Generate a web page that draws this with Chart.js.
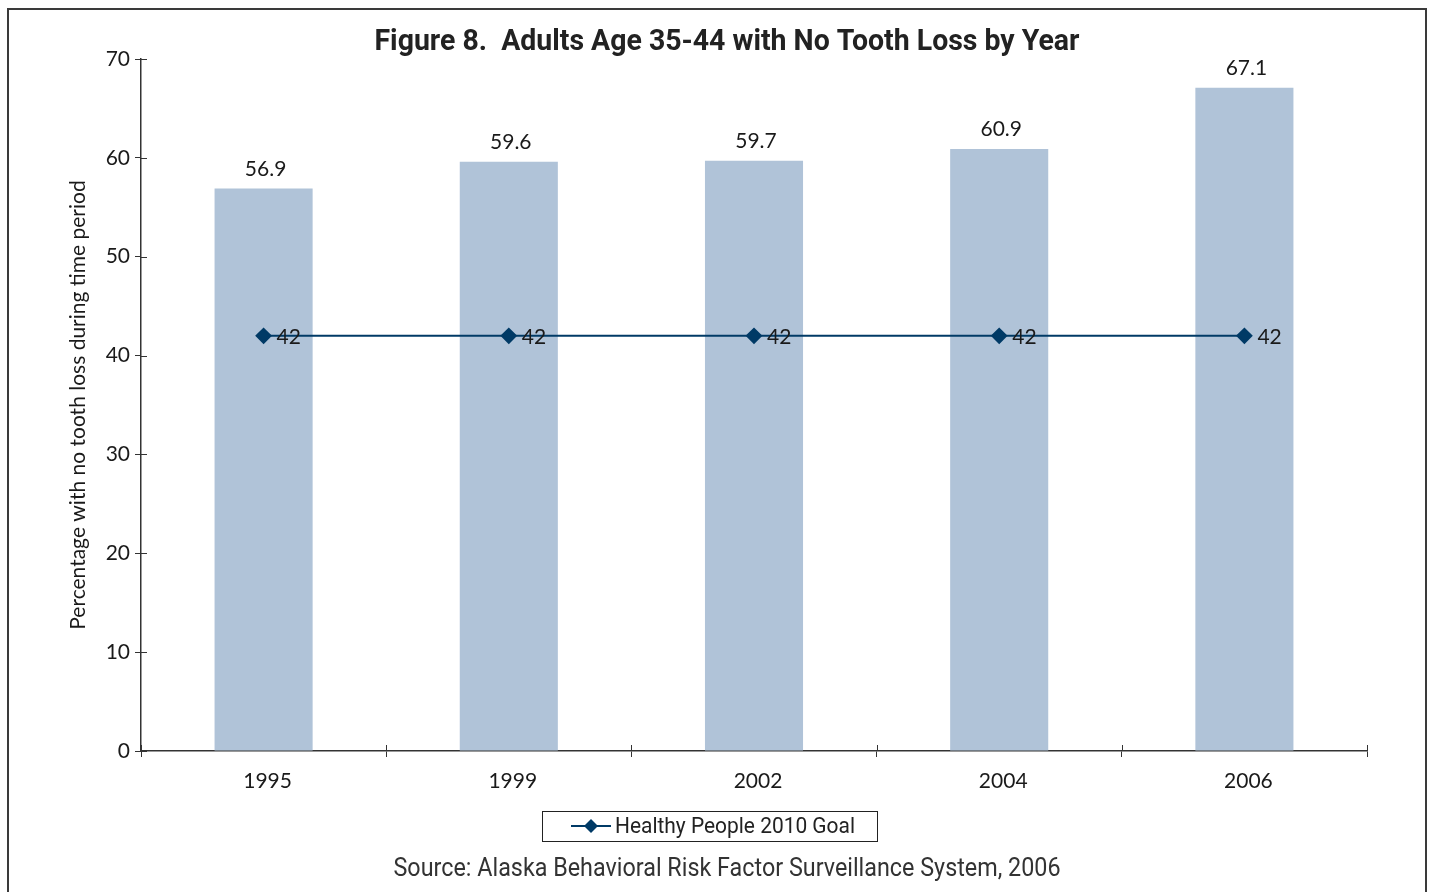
<!DOCTYPE html>
<html>
<head>
<meta charset="utf-8">
<title>Adults Age 35-44 with No Tooth Loss by Year</title>
<script src="https://cdn.jsdelivr.net/npm/chart.js@4.4.1/dist/chart.umd.min.js"></script>
<style>
    html, body { margin: 0; padding: 0; background: #fff; overflow: hidden; }
    #wrap { position: relative; width: 1432px; height: 892px; }
    #frame {
        position: absolute; left: 7px; top: 8px; width: 1420px; height: 900px;
        border: 2px solid #3a3a3a; box-sizing: border-box; pointer-events: none;
    }
    canvas { position: absolute; left: 0; top: 0; }
</style>
</head>
<body>
<div id="wrap">
    <canvas id="chartGigi" width="1432" height="892"></canvas>
    <div id="frame"></div>
</div>
<script>
// Data
const years = ['1995', '1999', '2002', '2004', '2006'];
const noLossPct = [56.9, 59.6, 59.7, 60.9, 67.1];
const goalPct = [42, 42, 42, 42, 42];
const yTicks = [0, 10, 20, 30, 40, 50, 60, 70];

const chartTitle = 'Figure 8.  Adults Age 35-44 with No Tooth Loss by Year';
const goalLabel = 'Healthy People 2010 Goal';
const sourceText = 'Source: Alaska Behavioral Risk Factor Surveillance System, 2006';
const yTitle = 'Percentage with no tooth loss during time period';

const BAR_COLOR = '#b0c3d8';
const LINE_COLOR = '#003a66';
const AXIS_COLOR = '#333';
const TEXT_COLOR = '#1a1a1a';

// Tick marks that cross the axis line (Chart.js only draws the outer half)
const innerTicks = {
    id: 'innerTicks',
    afterDraw(chart) {
        const { ctx, chartArea, scales } = chart;
        ctx.save();
        ctx.strokeStyle = AXIS_COLOR;
        ctx.lineWidth = 1;
        ctx.beginPath();
        yTicks.forEach(v => {
            const y = Math.round(scales.y.getPixelForValue(v)) + 0.5;
            ctx.moveTo(chartArea.left, y);
            ctx.lineTo(chartArea.left + 6, y);
        });
        for (let i = 0; i <= years.length; i++) {
            const x = Math.round(scales.x.getPixelForValue(i - 0.5)) + 0.5;
            ctx.moveTo(x, chartArea.bottom);
            ctx.lineTo(x, chartArea.bottom - 6);
        }
        ctx.stroke();
        ctx.restore();
    }
};

// Value labels above bars and beside the goal points
const valueLabels = {
    id: 'valueLabels',
    afterDatasetsDraw(chart) {
        const { ctx } = chart;
        ctx.save();
        ctx.font = '21px Lato';
        ctx.fillStyle = TEXT_COLOR;

        ctx.textAlign = 'center';
        ctx.textBaseline = 'bottom';
        chart.getDatasetMeta(0).data.forEach((bar, i) => {
            ctx.fillText(noLossPct[i].toFixed(1), bar.x + 2, bar.y - 9);
        });

        ctx.textAlign = 'left';
        ctx.textBaseline = 'middle';
        chart.getDatasetMeta(1).data.forEach((pt, i) => {
            ctx.fillText(String(goalPct[i]), pt.x + 13, pt.y + 1);
        });
        ctx.restore();
    }
};

// Title, boxed legend and source line (narrow face squeezed with maxWidth)
const pageText = {
    id: 'pageText',
    afterDraw(chart) {
        const { ctx } = chart;
        ctx.save();
        ctx.fillStyle = '#222';
        ctx.textAlign = 'center';
        ctx.textBaseline = 'middle';
        ctx.font = 'bold 29px Roboto';
        ctx.fillText(chartTitle, 727, 43, 705);

        // legend box
        ctx.strokeStyle = '#222';
        ctx.lineWidth = 1;
        ctx.strokeRect(542.5, 811.5, 335, 30);
        ctx.strokeStyle = LINE_COLOR;
        ctx.lineWidth = 2;
        ctx.beginPath();
        ctx.moveTo(571, 826);
        ctx.lineTo(611, 826);
        ctx.stroke();
        ctx.fillStyle = LINE_COLOR;
        ctx.beginPath();
        ctx.moveTo(591, 819);
        ctx.lineTo(598, 826);
        ctx.lineTo(591, 833);
        ctx.lineTo(584, 826);
        ctx.closePath();
        ctx.fill();

        ctx.fillStyle = '#222';
        ctx.textAlign = 'left';
        ctx.font = '22px Roboto';
        ctx.fillText(goalLabel, 615, 827, 240);

        ctx.textAlign = 'center';
        ctx.font = '25px Roboto';
        ctx.fillStyle = '#333';
        ctx.fillText(sourceText, 727, 870, 667);
        ctx.restore();
    }
};

new Chart(document.getElementById('chartGigi'), {
    type: 'bar',
    data: {
        labels: years,
        datasets: [
            {
                type: 'bar',
                label: 'No tooth loss',
                data: noLossPct,
                backgroundColor: BAR_COLOR,
                borderWidth: 0,
                barPercentage: 0.4,
                categoryPercentage: 1,
                order: 1
            },
            {
                type: 'line',
                label: goalLabel,
                data: goalPct,
                borderColor: LINE_COLOR,
                backgroundColor: LINE_COLOR,
                borderWidth: 2,
                pointStyle: 'rectRot',
                pointRadius: 7,
                pointHoverRadius: 7,
                tension: 0,
                order: 0
            }
        ]
    },
    options: {
        responsive: false,
        animation: false,
        layout: { padding: { top: 59, right: 65, left: 0, bottom: 0 } },
        plugins: {
            legend: { display: false },
            title: { display: false },
            tooltip: { enabled: false }
        },
        scales: {
            x: {
                offset: true,
                grid: {
                    offset: true,
                    drawOnChartArea: false,
                    drawTicks: true,
                    tickLength: 6,
                    color: AXIS_COLOR
                },
                border: { display: true, color: AXIS_COLOR, width: 1.5 },
                ticks: {
                    color: TEXT_COLOR,
                    font: { family: 'Lato', size: 21 },
                    padding: 12,
                    labelOffset: 4,
                    maxRotation: 0
                },
                afterFit(scale) { scale.height = 141; }
            },
            y: {
                min: 0,
                max: 70,
                ticks: {
                    stepSize: 10,
                    color: TEXT_COLOR,
                    font: { family: 'Lato', size: 21 },
                    padding: 5
                },
                grid: {
                    drawOnChartArea: false,
                    drawTicks: true,
                    tickLength: 6,
                    color: AXIS_COLOR
                },
                border: { display: true, color: AXIS_COLOR, width: 1.5 },
                title: {
                    display: true,
                    text: yTitle,
                    color: TEXT_COLOR,
                    font: { family: 'Lato', size: 21 },
                    padding: { top: 66, bottom: 0 }
                },
                afterFit(scale) { scale.width = 141; }
            }
        }
    },
    plugins: [innerTicks, valueLabels, pageText]
});
</script>
</body>
</html>
